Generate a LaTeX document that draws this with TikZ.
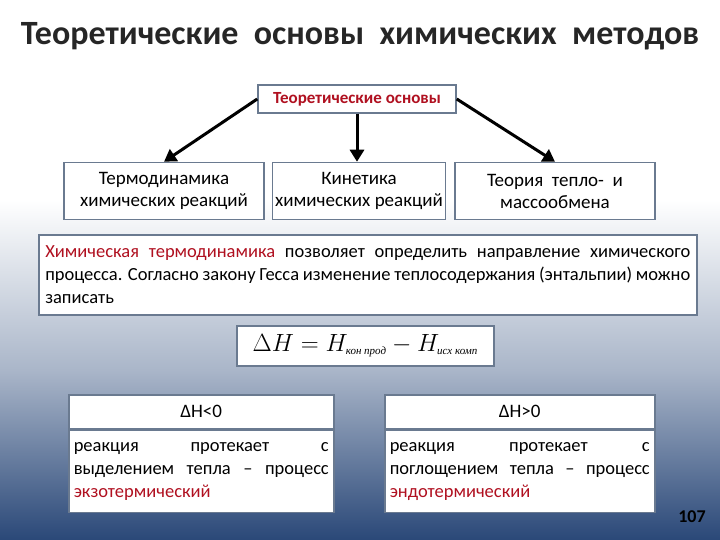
\documentclass[tikz,border=0pt]{standalone}
\usepackage{fontspec}
\setmainfont{Carlito}
\newfontfamily\lmserif{Liberation Serif}
\usetikzlibrary{arrows.meta}
\definecolor{dred}{HTML}{B01020}
\definecolor{bgblue}{HTML}{2A4878}
\definecolor{bord}{HTML}{6A7A90}
\tikzset{
 box/.style={draw=bord,line width=1.5pt,fill=white,inner sep=2pt,align=center,font=\fontsize{19}{22}\selectfont},
 arr/.style={line width=3pt,-{Triangle[length=12pt,width=14pt]}},
}
\begin{document}
\begin{tikzpicture}[x=1pt,y=-1pt]
\useasboundingbox (0,0) rectangle (720,540);
\fill[white] (0,0) rectangle (720,200);
\shade[top color=white,bottom color=bgblue,middle color=white!60!bgblue] (0,200) rectangle (720,540);
\node[font=\bfseries\fontsize{34}{36}\selectfont,text=black!85] (title) at (360,36) {Теоретические\ \ основы\ \ химических\ \ методов};
\node[box,minimum width=198pt,minimum height=28pt,text=dred,font=\bfseries\fontsize{17}{19}\selectfont] (top) at (357,99) {Теоретические основы};
\node[box,minimum width=200pt,minimum height=57pt] (b1) at (164,191) {Термодинамика\\химических реакций};
\node[box,minimum width=173pt,minimum height=57pt] (b2) at (359,191) {Кинетика\\химических реакций};
\node[box,minimum width=200pt,minimum height=57pt] (b3) at (555,191) {Теория\ \ тепло-\ \ и\\массообмена};
\draw[arr] (top.west) -- (b1.north);
\draw[arr] (top.south) -- (top.south|-b2.north);
\draw[arr] (top.east) -- (b3.north);
\node[box,minimum width=658pt,minimum height=80pt,align=justify,text width=645pt,font=\fontsize{18.5}{23}\selectfont,anchor=north west] (txt) at (38,234) {\textcolor{dred}{Химическая термодинамика} позволяет определить направление химического процесса. Согласно закону Гесса изменение теплосодержания (энтальпии) можно записать\par\vspace{6pt}};
\node[box,minimum width=257pt,minimum height=40pt,font=\fontsize{26}{28}\selectfont,anchor=north west] (f) at (236,325) {$\Delta H = H_{\mbox{\lmserif\itshape\fontsize{11}{11}\selectfont кон прод}} - H_{\mbox{\lmserif\itshape\fontsize{11}{11}\selectfont исх комп}}$};
\node[box,minimum width=265pt,minimum height=34pt,anchor=north west] (h1) at (68,394) {ΔH<0};
\node[box,minimum width=265pt,minimum height=82pt,anchor=north,align=justify,text width=255pt,font=\fontsize{18.5}{23}\selectfont] (c1) at (h1.south) {реакция протекает с выделением тепла – процесс \textcolor{dred}{экзотермический}\par\vspace{6pt}};
\node[box,minimum width=270pt,minimum height=34pt,anchor=north west] (h2) at (384,394) {ΔH>0};
\node[box,minimum width=270pt,minimum height=82pt,anchor=north,align=justify,text width=260pt,font=\fontsize{18.5}{23}\selectfont] (c2) at (h2.south) {реакция протекает с поглощением тепла – процесс \textcolor{dred}{эндотермический}\par\vspace{6pt}};
\node[font=\bfseries\fontsize{18}{20}\selectfont] (pg) at (692,517) {107};
\end{tikzpicture}
\end{document}
